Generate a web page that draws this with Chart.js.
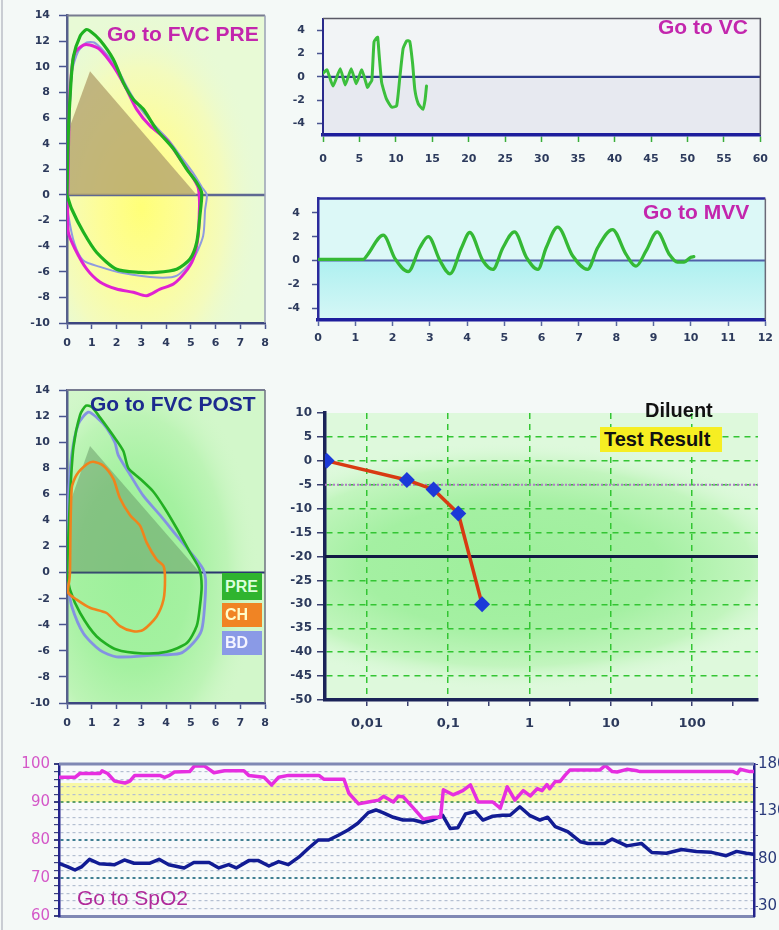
<!DOCTYPE html>
<html><head><meta charset="utf-8">
<script src="https://cdn.jsdelivr.net/npm/chart.js@4.4.1/dist/chart.umd.min.js"></script>
<style>
html,body{margin:0;padding:0;background:#f4f9f7;}
#page{position:relative;width:779px;height:930px;overflow:hidden;background:#f4f9f7;}
canvas{position:absolute;}
.t{position:absolute;font-family:"Liberation Sans",Arial,sans-serif;font-weight:bold;white-space:nowrap;line-height:1;font-size:21px;}
.box{position:absolute;font-family:"Liberation Sans",Arial,sans-serif;font-weight:bold;font-size:16px;overflow:hidden;white-space:nowrap;box-sizing:border-box;padding-left:3px;}
</style></head>
<body><div id="page">
<div style="position:absolute;left:1px;top:0;width:2px;height:930px;background:#c9cdd3"></div>
<canvas id="c1" width="280" height="360" style="left:0;top:0;width:280px;height:360px"></canvas>
<canvas id="c2" width="499" height="180" style="left:280px;top:0;width:499px;height:180px"></canvas>
<canvas id="c3" width="499" height="180" style="left:280px;top:180px;width:499px;height:180px"></canvas>
<canvas id="c4" width="280" height="370" style="left:0;top:370px;width:280px;height:370px"></canvas>
<canvas id="c5" width="499" height="350" style="left:280px;top:390px;width:499px;height:350px"></canvas>
<canvas id="c6" width="779" height="185" style="left:0;top:745px;width:779px;height:185px"></canvas>
<div class="t" style="left:107px;top:23px;color:#c326ad">Go to FVC PRE</div>
<div class="t" style="left:658px;top:16px;color:#c326ad">Go to VC</div>
<div class="t" style="left:643px;top:201px;color:#c326ad">Go to MVV</div>
<div class="t" style="left:90px;top:393px;color:#1c2a8e">Go to FVC POST</div>
<div class="t" style="left:645px;top:400px;color:#111;font-size:20px">Diluent</div>
<div class="t" style="left:600px;top:427px;width:122px;height:25px;line-height:25px;background:#f6ee22;color:#111;font-size:20px;padding-left:4px;box-sizing:border-box">Test Result</div>
<div class="t" style="left:77px;top:887px;color:#b02a9a;font-weight:normal">Go to SpO2</div>
<div class="box" style="left:222px;top:573px;width:40px;height:27px;line-height:27px;background:#2fb42f;color:#dcffdc">PRE</div>
<div class="box" style="left:222px;top:603px;width:40px;height:24px;line-height:24px;background:#f08424;color:#fffcc8">CH</div>
<div class="box" style="left:222px;top:631px;width:40px;height:24px;line-height:24px;background:#8a9ae6;color:#f4f4ff">BD</div>
</div>
<script>
// ---------------- DATA ----------------
// FVC PRE (flow-volume loops): volume (L) / flow (L/s)
const prePredVol  = [0, 0.05, 0.93, 5.24];
const prePredFlow = [0, 5.0, 9.66, 0];
const preGreenVol  = [0, 0.05, 0.15, 0.26, 0.53, 0.77, 0.93, 1.33, 1.87, 2.28, 2.68, 3.08, 3.62, 4.3, 4.84, 5.24, 5.44, 5.37, 5.24, 4.97, 4.43, 3.62, 2.95, 2.0, 1.2, 0.66, 0.19, 0];
const preGreenFlow = [0, 4.6, 8.5, 10.8, 12.4, 12.9, 12.8, 12.1, 10.6, 8.75, 7.45, 6.7, 5.1, 3.6, 2.0, 0.96, 0.18, -1.6, -3.7, -5.0, -5.8, -6.05, -6.05, -5.8, -4.5, -2.9, -1.1, 0];
const preMagVol  = [0.03, 0.1, 0.19, 0.32, 0.66, 0.93, 1.33, 1.87, 2.34, 2.81, 3.35, 4.03, 4.57, 5.04, 5.3, 5.35, 5.35, 5.3, 5.1, 4.77, 4.3, 3.76, 3.22, 2.68, 2.0, 1.33, 0.8, 0.32, 0.05, 0.03];
const preMagFlow = [0, 7.2, 9.8, 11.1, 11.7, 11.7, 11.35, 10.05, 8.5, 6.7, 5.4, 4.3, 2.8, 1.5, 0.57, -0.34, -1.1, -3.2, -5.0, -6.05, -6.96, -7.35, -7.87, -7.6, -7.35, -6.8, -5.8, -4.2, -2.9, 0];
const preBlueVol  = [0, 0.1, 0.2, 0.45, 0.8, 1.1, 1.5, 2.0, 2.4, 2.9, 3.5, 4.1, 4.6, 5.1, 5.45, 5.65, 5.58, 5.5, 5.1, 4.44, 3.64, 2.26, 1.3, 0.65, 0.3, 0.05, 0];
const preBlueFlow = [0, 6, 9.6, 11.2, 11.9, 11.9, 11.2, 10.0, 8.5, 6.9, 5.5, 4.3, 3.0, 1.7, 0.6, 0, -1.15, -3.2, -5.0, -6.3, -6.45, -6.1, -5.6, -5.1, -3.8, -1.5, 0];

// FVC POST
const postPredVol  = [0, 0.05, 0.93, 5.37];
const postPredFlow = [0, 5.0, 9.7, 0];
const postPreVol  = [0, 0.12, 0.26, 0.53, 0.77, 1.0, 1.33, 1.94, 2.28, 2.48, 2.95, 3.49, 3.96, 4.43, 4.97, 5.35, 5.44, 5.37, 5.24, 4.84, 4.03, 3.08, 2.0, 1.2, 0.53, 0.12, 0];
const postPreFlow = [0, 5.7, 9.6, 12.1, 12.8, 12.7, 11.9, 10.3, 9.3, 8.0, 7.2, 6.2, 4.9, 3.4, 1.55, 0.26, -1.03, -2.58, -4.1, -5.4, -6.07, -6.2, -5.9, -4.9, -3.1, -1.3, 0];
const postBdVol  = [0, 0.05, 0.19, 0.46, 0.86, 1.2, 1.6, 1.94, 2.07, 2.55, 3.08, 3.76, 4.43, 5.1, 5.5, 5.6, 5.56, 5.44, 5.1, 4.57, 3.49, 2.0, 1.33, 0.66, 0.19, 0.05, 0];
const postBdFlow = [0, 5.2, 9.0, 11.4, 12.3, 11.9, 11.1, 9.95, 9.0, 7.5, 5.9, 4.4, 2.84, 1.3, 0.26, -0.5, -2.58, -4.4, -5.4, -6.2, -6.33, -6.46, -5.94, -4.65, -2.58, -1.03, 0];
const postChVol  = [0.12, 0.19, 0.39, 0.8, 1.06, 1.47, 1.87, 2.14, 2.55, 2.95, 3.22, 3.62, 3.9, 3.96, 3.9, 3.62, 3.08, 2.68, 2.14, 1.6, 0.93, 0.39, 0.05, 0.1, 0.12];
const postChFlow = [0, 6.46, 7.5, 8.3, 8.5, 8.2, 7.2, 5.7, 4.4, 3.6, 2.3, 1.0, 0.5, -0.5, -2.07, -3.36, -4.4, -4.5, -4.1, -3.1, -2.7, -2.07, -1.55, -0.5, 0];

// VC (time s / volume L)
const vcTime = [0, 0.55, 1.37, 2.37, 3.05, 3.87, 4.55, 5.32, 6.1, 6.4, 6.7, 7.0, 7.3, 7.5, 7.7, 8.05, 8.7, 9.4, 10.1, 10.55, 11.0, 11.5, 11.9, 12.3, 12.6, 13.06, 13.7, 14.0, 14.2];
const vcVol  = [0.3, 0.6, -0.8, 0.7, -0.7, 0.7, -0.6, 0.6, -0.9, -0.6, -0.3, 3.0, 3.3, 3.4, 1.9, -0.5, -1.9, -2.6, -2.5, 0, 2.45, 3.1, 3.05, 1.1, -1.1, -2.3, -2.8, -2.0, -0.8];

// MVV (time s / volume L)
const mvvTime = [0, 1.22, 1.31, 1.75, 2.07, 2.42, 2.73, 2.96, 3.27, 3.54, 3.85, 4.07, 4.42, 4.69, 4.96, 5.27, 5.59, 5.9, 6.12, 6.43, 6.83, 7.23, 7.5, 7.9, 8.26, 8.53, 8.8, 9.1, 9.42, 9.64, 9.82, 10.0, 10.08];
const mvvVol  = [0.1, 0.1, 0.4, 2.13, 0.13, -0.93, 1.07, 2.0, 0, -1.12, 1.07, 2.35, 0, -0.75, 1.07, 2.4, 0.27, -0.75, 1.07, 2.8, 0.4, -0.75, 1.07, 2.6, 0.53, -0.48, 0.8, 2.4, 0.53, -0.13, -0.13, 0.27, 0.32];

// Challenge test (dose / % change)
const dilDose     = [0.0032, 0.031, 0.066, 0.133, 0.261];
const dilResponse = [0, -4, -6, -11, -30];
const dilDecadeTicks = [0.01, 0.1, 1, 10, 100];
const dilTickLabels  = ['0,01', '0,1', '1', '10', '100'];

// SpO2 / pulse (relative time 0-100)
const spo2Time = [0, 2.3, 3.0, 5.9, 6.2, 7.0, 8.0, 9.5, 10.2, 10.9, 14.5, 15.2, 15.9, 16.6, 18.8, 19.5, 20.9, 22.3, 23.8, 26.6, 27.3, 29.5, 30.6, 31.6, 33, 37.4, 38.1, 41.0, 41.7, 43.1, 44.5, 46.0, 46.7, 48.1, 48.8, 49.5, 51.0, 52.4, 53.8, 54.9, 55.3, 56.7, 58.1, 59.2, 60.3, 62.4, 63.5, 64.5, 65.6, 66.8, 67.8, 68.8, 69.5, 70.2, 70.6, 71.4, 72.1, 72.8, 73.5, 77.8, 78.6, 79.6, 80.3, 81.7, 83.2, 83.6, 97, 97.6, 98, 99.4, 100];
const spo2Value = [96.5, 96.5, 97.5, 97.5, 98.2, 97.5, 95.5, 95, 95.5, 97, 97, 96.5, 97, 97.9, 98, 99.5, 99.5, 97.7, 98.2, 98.2, 97, 96.5, 94.5, 96.5, 97, 97, 96, 96, 92.3, 89.5, 90, 90.5, 91.5, 90, 91.5, 91.4, 88.4, 85.5, 86, 86, 93.2, 91.9, 93, 94.5, 90, 90, 88.4, 94, 90.5, 93, 91.6, 93.5, 93, 94.6, 93.5, 95.4, 95.4, 97, 98.4, 98.4, 99.6, 98, 97.9, 98.6, 98.2, 98, 98, 97.5, 98.6, 98, 98];
const pulseTime = [0, 1.2, 2.3, 3.3, 4.4, 5.8, 8.0, 9.4, 10.8, 13.0, 14.4, 15.8, 18.0, 19.4, 21.6, 23.0, 24.4, 25.5, 27.3, 28.7, 30.2, 31.6, 33.0, 34.5, 35.9, 37.3, 38.8, 40.2, 41.6, 43.0, 44.5, 45.6, 46.6, 48.1, 49.5, 51.0, 52.4, 53.8, 55.2, 56.3, 57.4, 58.5, 59.9, 61.0, 62.4, 63.8, 64.9, 66.3, 67.7, 69.2, 70.3, 71.4, 73.2, 75.0, 76.1, 78.5, 79.6, 81.7, 83.8, 85.3, 87.4, 89.6, 91.7, 93.9, 96.0, 97.5, 98.9, 100];
const pulseValue = [75.5, 72, 68.4, 72, 79.7, 75, 74, 79, 75.5, 75.5, 79.7, 74, 70.6, 76.3, 76.3, 70.6, 74, 70.6, 78.3, 78.3, 72.6, 77.3, 74, 81.9, 91.3, 100, 100, 105, 110.5, 117.6, 128.8, 131.6, 128.8, 123.9, 121, 121, 118.5, 121, 126, 112, 113, 127.5, 130, 121, 125, 126, 126, 135, 126, 121, 124, 114, 108.8, 98.2, 96.4, 96.4, 101, 93.8, 96.4, 86.8, 86, 90, 88, 87, 83.5, 88, 86, 85];

// ---------------- HELPERS ----------------
Chart.defaults.font.family = 'DejaVu Sans';
Chart.defaults.animation = false;
const pts = (xs, ys) => xs.map((x, i) => ({x, y: ys[i]}));
const LBL = '#2c3a5c';
const tickFont = {family: 'DejaVu Sans', size: 11, weight: 'bold'};

function loop(label, xs, ys, color, w) {
  return {label, data: pts(xs, ys), borderColor: color, borderWidth: w, pointRadius: 0, fill: false, tension: 0.25};
}
function hline(ctx, a, y, color, w, dash) {
  ctx.save(); ctx.strokeStyle = color; ctx.lineWidth = w; ctx.setLineDash(dash || []);
  ctx.beginPath(); ctx.moveTo(a.left, y); ctx.lineTo(a.right, y); ctx.stroke(); ctx.restore();
}
function painter(id, bg, mid, top) {
  return {
    id,
    beforeDraw(chart) {
      const {ctx, chartArea: a, scales} = chart;
      ctx.save(); ctx.beginPath(); ctx.rect(a.left, a.top, a.right - a.left, a.bottom - a.top); ctx.clip();
      bg(ctx, a, scales); ctx.restore();
    },
    beforeDatasetsDraw(chart) { if (mid) mid(chart.ctx, chart.chartArea, chart.scales); },
    afterDatasetsDraw(chart) { if (top) top(chart.ctx, chart.chartArea, chart.scales); }
  };
}
function ellipseGlow(ctx, cx, cy, rx, ry, stops) {
  ctx.save(); ctx.translate(cx, cy); ctx.scale(1, ry / rx);
  const g = ctx.createRadialGradient(0, 0, 0, 0, 0, rx);
  stops.forEach(s => g.addColorStop(s[0], s[1]));
  ctx.fillStyle = g; ctx.fillRect(-rx, -rx, 2 * rx, 2 * rx); ctx.restore();
}

function fvcScales(yW, xH) {
  return {
    x: {type: 'linear', min: 0, max: 8,
        ticks: {stepSize: 1, color: LBL, font: tickFont, padding: 8, maxRotation: 0, autoSkip: false},
        grid: {drawOnChartArea: false, tickLength: 6, color: '#4a5590', tickWidth: 1.5},
        border: {color: '#3c4680', width: 2.5},
        afterFit: s => { s.height = xH; }},
    y: {min: -10, max: 14,
        ticks: {stepSize: 2, color: LBL, font: tickFont, padding: 9},
        grid: {drawOnChartArea: false, tickLength: 8, color: '#4a5590', tickWidth: 1.5},
        border: {color: '#56608c', width: 2.5},
        afterFit: s => { s.width = yW; }}
  };
}
const common = {responsive: false, devicePixelRatio: 1, animation: false,
  plugins: {legend: {display: false}, tooltip: {enabled: false}},
  elements: {point: {radius: 0}, line: {borderJoinStyle: 'round', borderCapStyle: 'round'}}};

// ---------------- CHART 1: FVC PRE ----------------
new Chart(document.getElementById('c1'), {
  type: 'line',
  data: {datasets: [
    loop('PRE', preGreenVol, preGreenFlow, '#1fb21f', 3.2),
    loop('Trial 2', preMagVol, preMagFlow, '#e021d2', 3),
    loop('Trial 3', preBlueVol, preBlueFlow, '#8f9be0', 2),
    {label: 'Predicted', data: pts(prePredVol, prePredFlow), borderColor: 'rgba(0,0,0,0)', borderWidth: 0,
     backgroundColor: 'rgba(178,162,108,0.78)', fill: 'origin', pointRadius: 0, tension: 0}
  ]},
  options: Object.assign({}, common, {layout: {padding: {top: 13, right: 15, left: 0, bottom: 0}}, scales: fvcScales(67, 37)}),
  plugins: [painter('p1', (ctx, a, s) => {
      ctx.fillStyle = '#e8fad6'; ctx.fillRect(a.left, a.top, a.right - a.left, a.bottom - a.top);
      ellipseGlow(ctx, s.x.getPixelForValue(3), s.y.getPixelForValue(-1), 120, 200,
        [[0, '#ffff78'], [0.35, '#fdfd98'], [0.7, '#f3fbbe'], [1, 'rgba(232,250,214,0)']]);
    },
    (ctx, a, s) => { hline(ctx, a, s.y.getPixelForValue(0), '#5e6892', 2.5); },
    (ctx, a) => {
      ctx.save(); ctx.strokeStyle = '#777b90'; ctx.lineWidth = 2;
      ctx.beginPath(); ctx.moveTo(a.left, a.top); ctx.lineTo(a.right, a.top); ctx.stroke();
      ctx.strokeStyle = '#9aa0b4'; ctx.lineWidth = 1.5;
      ctx.beginPath(); ctx.moveTo(a.right, a.top); ctx.lineTo(a.right, a.bottom); ctx.stroke(); ctx.restore();
    })]
});

// ---------------- CHART 2: VC ----------------
new Chart(document.getElementById('c2'), {
  type: 'line',
  data: {datasets: [{label: 'VC', data: pts(vcTime, vcVol), borderColor: '#3cbf3c', borderWidth: 3, pointRadius: 0, tension: 0.15}]},
  options: Object.assign({}, common, {layout: {padding: {top: 13, right: 17, left: 0, bottom: 0}},
    scales: {
      x: {type: 'linear', min: 0, max: 60, ticks: {stepSize: 5, color: LBL, font: tickFont, padding: 11, maxRotation: 0, autoSkip: false},
          grid: {drawOnChartArea: false, tickLength: 7, color: '#3aae3a', tickWidth: 1.5},
          border: {color: '#1d1d9c', width: 3.5}, afterFit: s => { s.height = 45; }},
      y: {min: -5, max: 5, afterBuildTicks: ax => { ax.ticks = [-4, -2, 0, 2, 4].map(v => ({value: v})); },
          ticks: {color: LBL, font: tickFont, padding: 12},
          grid: {drawOnChartArea: false, tickLength: 6, color: '#4a5590', tickWidth: 1.5},
          border: {color: '#2a2a8c', width: 2}, afterFit: s => { s.width = 43; }}
    }}),
  plugins: [painter('p2', (ctx, a, s) => {
      const z = s.y.getPixelForValue(0);
      ctx.fillStyle = '#f2f4f6'; ctx.fillRect(a.left, a.top, a.right - a.left, z - a.top);
      ctx.fillStyle = '#e7e9f0'; ctx.fillRect(a.left, z, a.right - a.left, a.bottom - z);
    },
    (ctx, a, s) => { hline(ctx, a, s.y.getPixelForValue(0), '#2e3a8c', 2.2); },
    (ctx, a) => {
      ctx.save(); ctx.strokeStyle = '#5a5a66'; ctx.lineWidth = 1.5;
      ctx.beginPath(); ctx.moveTo(a.left, a.top); ctx.lineTo(a.right, a.top); ctx.lineTo(a.right, a.bottom); ctx.stroke(); ctx.restore();
    })]
});

// ---------------- CHART 3: MVV ----------------
new Chart(document.getElementById('c3'), {
  type: 'line',
  data: {datasets: [{label: 'MVV', data: pts(mvvTime, mvvVol), borderColor: '#35b935', borderWidth: 3.3, pointRadius: 0, tension: 0.35, cubicInterpolationMode: 'monotone'}]},
  options: Object.assign({}, common, {layout: {padding: {top: 16, right: 12, left: 0, bottom: 0}},
    scales: {
      x: {type: 'linear', min: 0, max: 12, ticks: {stepSize: 1, color: LBL, font: tickFont, padding: 6, maxRotation: 0, autoSkip: false},
          grid: {drawOnChartArea: false, tickLength: 6, color: '#5a6aa0', tickWidth: 1.5},
          border: {color: '#1d1d9c', width: 3.5}, afterFit: s => { s.height = 40; }},
      y: {min: -5, max: 5.2, afterBuildTicks: ax => { ax.ticks = [-4, -2, 0, 2, 4].map(v => ({value: v})); },
          ticks: {color: LBL, font: tickFont, padding: 12},
          grid: {drawOnChartArea: false, tickLength: 6, color: '#4a5590', tickWidth: 1.5},
          border: {color: '#2a2a9c', width: 2.5}, afterFit: s => { s.width = 38; }}
    }}),
  plugins: [painter('p3', (ctx, a, s) => {
      const z = s.y.getPixelForValue(0);
      ctx.fillStyle = '#dcf8f7'; ctx.fillRect(a.left, a.top, a.right - a.left, a.bottom - a.top);
      const g = ctx.createLinearGradient(0, z, 0, a.bottom);
      g.addColorStop(0, '#aef0f0'); g.addColorStop(1, '#d6f7f6');
      ctx.fillStyle = g; ctx.fillRect(a.left, z, a.right - a.left, a.bottom - z);
    },
    (ctx, a, s) => { hline(ctx, a, s.y.getPixelForValue(0), '#5060a8', 2.2); },
    (ctx, a) => {
      ctx.save(); ctx.strokeStyle = '#2a2a9c'; ctx.lineWidth = 2.5;
      ctx.beginPath(); ctx.moveTo(a.left, a.top); ctx.lineTo(a.right, a.top); ctx.stroke();
      ctx.strokeStyle = '#6a6a78'; ctx.lineWidth = 1.5;
      ctx.beginPath(); ctx.moveTo(a.right, a.top); ctx.lineTo(a.right, a.bottom); ctx.stroke(); ctx.restore();
    })]
});

// ---------------- CHART 4: FVC POST ----------------
new Chart(document.getElementById('c4'), {
  type: 'line',
  data: {datasets: [
    loop('CH', postChVol, postChFlow, '#f0841c', 2.6),
    loop('PRE', postPreVol, postPreFlow, '#22b022', 2.6),
    loop('BD', postBdVol, postBdFlow, '#8492e2', 2.8),
    {label: 'Predicted', data: pts(postPredVol, postPredFlow), borderColor: 'rgba(0,0,0,0)', borderWidth: 0,
     backgroundColor: 'rgba(100,150,100,0.5)', fill: 'origin', pointRadius: 0, tension: 0}
  ]},
  options: Object.assign({}, common, {layout: {padding: {top: 20, right: 15, left: 0, bottom: 0}}, scales: fvcScales(67, 37)}),
  plugins: [painter('p4', (ctx, a, s) => {
      ctx.fillStyle = '#d2f7ca'; ctx.fillRect(a.left, a.top, a.right - a.left, a.bottom - a.top);
      ellipseGlow(ctx, s.x.getPixelForValue(2.7), s.y.getPixelForValue(0), 125, 210,
        [[0, '#9cf09a'], [0.45, '#a4f1a0'], [0.75, '#bdf4b6'], [1, 'rgba(210,247,202,0)']]);
    },
    (ctx, a, s) => { hline(ctx, a, s.y.getPixelForValue(0), '#2a3570', 2); },
    (ctx, a) => {
      ctx.save(); ctx.strokeStyle = '#777b90'; ctx.lineWidth = 2;
      ctx.beginPath(); ctx.moveTo(a.left, a.top); ctx.lineTo(a.right, a.top); ctx.stroke();
      ctx.strokeStyle = '#6e7280'; ctx.lineWidth = 1.5;
      ctx.beginPath(); ctx.moveTo(a.right, a.top); ctx.lineTo(a.right, a.bottom); ctx.stroke(); ctx.restore();
    })]
});

// ---------------- CHART 5: Challenge ----------------
const halfDecades = [0.01, 0.0316, 0.1, 0.316, 1, 3.16, 10, 31.6, 100, 316];
const isDecade = v => dilDecadeTicks.some(d => Math.abs(v - d) / d < 1e-6);
new Chart(document.getElementById('c5'), {
  type: 'line',
  data: {datasets: [{label: 'Test Result', data: pts(dilDose, dilResponse), borderColor: '#d83a12', borderWidth: 3.5,
    pointRadius: 5.5, pointStyle: 'rectRot', pointBackgroundColor: '#1c3ad8', pointBorderColor: '#1c3ad8', tension: 0}]},
  options: Object.assign({}, common, {layout: {padding: {top: 23, right: 21, left: 0, bottom: 0}},
    scales: {
      x: {type: 'logarithmic', min: 0.00305, max: 646,
          afterBuildTicks: ax => { ax.ticks = halfDecades.map(v => ({value: v})); },
          ticks: {color: LBL, font: {family: 'DejaVu Sans', size: 13, weight: 'bold'}, padding: 10, maxRotation: 0, autoSkip: false,
                  callback: v => { const i = dilDecadeTicks.findIndex(d => Math.abs(v - d) / d < 1e-6); return i >= 0 ? dilTickLabels[i] : ''; }},
          grid: {color: c => isDecade(c.tick.value) ? '#33c533' : 'rgba(0,0,0,0)', tickColor: '#3a4070', lineWidth: 1.5, tickLength: 6},
          border: {color: '#1a2358', width: 3.5, dash: [6, 5]}, afterFit: s => { s.height = 40; }},
      y: {min: -50, max: 10, ticks: {stepSize: 5, color: LBL, font: {family: 'DejaVu Sans', size: 12, weight: 'bold'}, padding: 5},
          grid: {color: c => (c.tick.value === 10 || c.tick.value === -50) ? 'rgba(0,0,0,0)' : '#33c533', tickColor: '#3a4070', lineWidth: 1.5, tickLength: 8},
          border: {color: '#1a2358', width: 3.5, dash: [6, 5]}, afterFit: s => { s.width = 45; }}
    }}),
  plugins: [painter('p5', (ctx, a, s) => {
      ctx.fillStyle = '#def9dc'; ctx.fillRect(a.left, a.top, a.right - a.left, a.bottom - a.top);
      ellipseGlow(ctx, s.x.getPixelForValue(0.6), s.y.getPixelForValue(-22), 300, 125,
        [[0, '#9eef9c'], [0.5, '#a4f0a2'], [0.8, '#c2f5be'], [1, 'rgba(222,249,220,0)']]);
    },
    (ctx, a, s) => {
      hline(ctx, a, s.y.getPixelForValue(-5), '#b07ac8', 2, [2, 2]);
      hline(ctx, a, s.y.getPixelForValue(-20), '#121a44', 3);
    }, null)]
});

// ---------------- CHART 6: SpO2 ----------------
new Chart(document.getElementById('c6'), {
  type: 'line',
  data: {datasets: [
    {label: 'SpO2', data: pts(spo2Time, spo2Value), yAxisID: 'y', borderColor: '#e62ee0', borderWidth: 3.5, pointRadius: 0, tension: 0},
    {label: 'Pulse', data: pts(pulseTime, pulseValue), yAxisID: 'y2', borderColor: '#121c94', borderWidth: 3.5, pointRadius: 0, tension: 0}
  ]},
  options: Object.assign({}, common, {layout: {padding: {top: 19, right: 0, left: 0, bottom: 0}},
    scales: {
      x: {type: 'linear', min: 0, max: 100, ticks: {display: false}, grid: {display: false},
          border: {color: '#8088b4', width: 3}, afterFit: s => { s.height = 14; }},
      y: {position: 'left', min: 60, max: 100,
          ticks: {stepSize: 2, color: '#d458c8', font: {family: 'DejaVu Sans', size: 15}, padding: 4, autoSkip: false,
                  callback: v => (v % 10 === 0 ? String(v) : '')},
          grid: {color: c => {const v = c.tick.value; if (v === 100 || v === 60) return 'rgba(0,0,0,0)'; if (v === 90) return '#5d9e6a'; if (v % 10 === 0) return '#3f7f92'; return '#b4bfd2';},
                 lineWidth: c => (c.tick.value % 10 === 0 ? 2 : 1.2), tickColor: '#3a4080', tickLength: 5},
          border: {color: '#24248c', width: 2.5, dash: [3, 3]}, afterFit: s => { s.width = 59; }},
      y2: {position: 'right', min: 20, max: 180,
          afterBuildTicks: ax => { ax.ticks = [30, 55, 80, 105, 130, 155, 180].map(v => ({value: v})); },
          ticks: {color: '#2a3a7a', font: {family: 'DejaVu Sans', size: 15}, padding: 0,
                  callback: v => ((v - 30) % 50 === 0 ? String(v) : '')},
          grid: {drawOnChartArea: false, tickLength: 4, color: '#3a4080'},
          border: {color: '#24248c', width: 2.5}, afterFit: s => { s.width = 25; }}
    }}),
  plugins: [painter('p6', (ctx, a, s) => {
      ctx.fillStyle = '#f7f9fb'; ctx.fillRect(a.left, a.top, a.right - a.left, a.bottom - a.top);
      const y90 = s.y.getPixelForValue(90), y95 = s.y.getPixelForValue(95);
      ctx.fillStyle = '#f8f8a6'; ctx.fillRect(a.left, y95, a.right - a.left, y90 - y95);
    }, null,
    (ctx, a) => {
      ctx.save(); ctx.strokeStyle = '#8088b4'; ctx.lineWidth = 3;
      ctx.beginPath(); ctx.moveTo(a.left, a.top); ctx.lineTo(a.right, a.top); ctx.stroke(); ctx.restore();
    })]
});
</script>
</body></html>
